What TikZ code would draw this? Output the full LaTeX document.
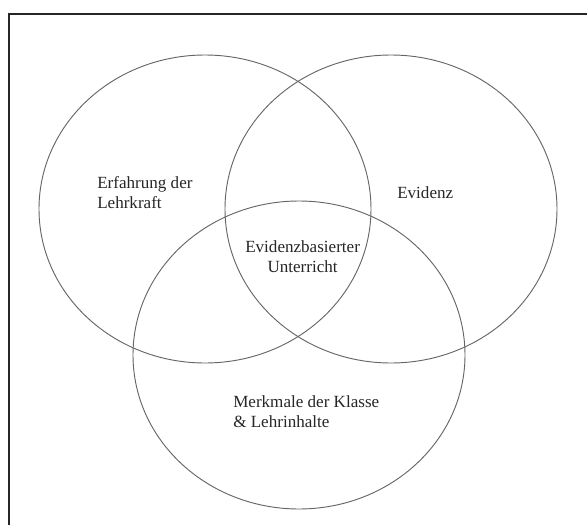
\documentclass[tikz,border=0pt]{standalone}
\usepackage{fontspec}
\setmainfont{Liberation Serif}
\usetikzlibrary{shapes.geometric, positioning}

\begin{document}
\begin{tikzpicture}[
    x=0.75pt, y=-0.75pt,
    font=\fontsize{12.8}{14.6}\selectfont,
    setshape/.style={ellipse, draw=black!60, line width=0.7pt, minimum width=249pt, minimum height=231pt, inner sep=0pt},
    settext/.style={inner sep=0pt, anchor=base west, text=black!85},
    frameline/.style={draw=black!85, line width=1.5pt}
]
\useasboundingbox (0,0) rectangle (587,525);

% Frame (only left and top edge visible)
\coordinate (fbl) at (9,525);
\coordinate (ftr) at (587,14);
\draw [frameline] (fbl) |- (ftr);

% The three sets
\node (teacher) [setshape] at (205,209) {};
\node (evidence) [setshape] at (391,209) {};
\node (class) [setshape] at (299,355) {};

% Labels (base = baseline of the last line)
\node (teachertxt) [settext, align=left] at (97,208) {Erfahrung der\\Lehrkraft};
\node (evidencetxt) [settext] at (397,198) {Evidenz};
\node (centertxt) [settext, align=center] at (245,272) {Evidenzbasierter\\Unterricht};
\node (classtxt) [settext, align=left] at (233,427) {Merkmale der Klasse\\\& Lehrinhalte};

\end{tikzpicture}
\end{document}
